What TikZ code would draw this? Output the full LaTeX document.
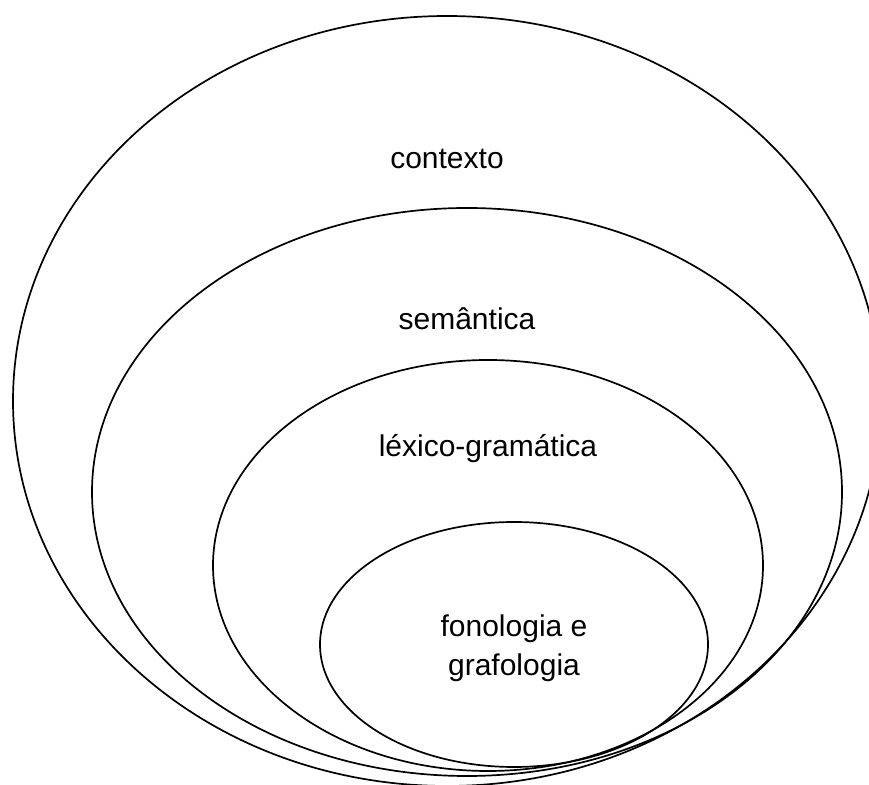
\documentclass[tikz,border=0pt]{standalone}
\usepackage{fontspec}
\setmainfont{Liberation Sans}
\usetikzlibrary{positioning}
\tikzset{
  ring/.style={draw=black, line width=0.85pt},
  ringtext/.style={font=\fontsize{15}{19.5}\selectfont, align=center, inner sep=0pt}
}
\begin{document}
\begin{tikzpicture}[x=0.5pt, y=-0.5pt]
  \useasboundingbox (0,0) rectangle (869,785);
  % nested rings, outermost first (outer one runs off the right edge)
  \draw[ring] (447,401)   ellipse [x radius=434, y radius=385];
  \draw[ring] (467,492)   ellipse [x radius=375, y radius=284];
  \draw[ring] (488,565.5) ellipse [x radius=275, y radius=205.5];
  \draw[ring] (514,644.5) ellipse [x radius=194, y radius=122.5];

  \node[ringtext, anchor=base] (contexto)  at (447,169) {contexto};
  \node[ringtext, anchor=base] (semantica) at (467,330) {semântica};
  \node[ringtext, anchor=base] (lexico)    at (488,457) {léxico-gramática};
  \node[ringtext] (fonologia) at (514,648) {fonologia e\\grafologia};
\end{tikzpicture}
\end{document}
